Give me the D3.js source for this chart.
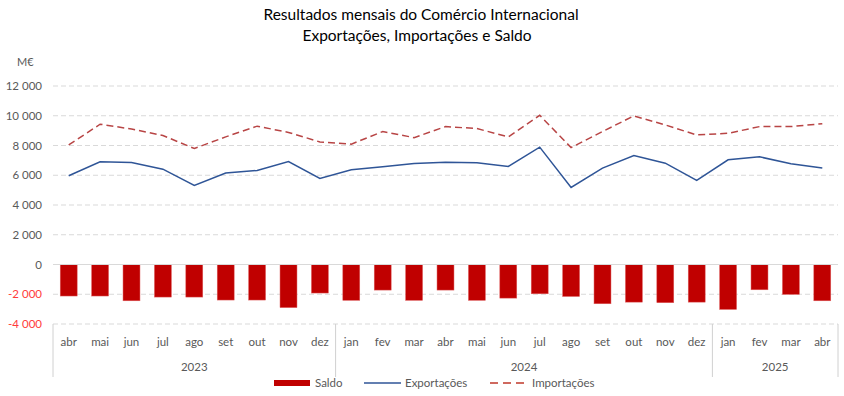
<!DOCTYPE html>
<html>
<head>
<meta charset="utf-8">
<script src="https://cdn.jsdelivr.net/npm/d3@7"></script>
<style>
  body { margin: 0; background: #fff; }
  svg { display: block; font-family: Lato, "Open Sans", sans-serif; }
</style>
</head>
<body>
<svg id="chart" width="844" height="396"></svg>
<script>

// months from abr 2023 to abr 2025
var months = ['abr','mai','jun','jul','ago','set','out','nov','dez',
              'jan','fev','mar','abr','mai','jun','jul','ago','set','out','nov','dez',
              'jan','fev','mar','abr'];
var years = [
    {label: '2023', start: 0, end: 9},
    {label: '2024', start: 9, end: 21},
    {label: '2025', start: 21, end: 25}
];
var exportacoes = [5970, 6900, 6860, 6410, 5320, 6150, 6320, 6920, 5790,
                   6370, 6570, 6790, 6880, 6840, 6590, 7890, 5180, 6480, 7330, 6810, 5650,
                   7040, 7240, 6770, 6480];
var importacoes = [8040, 9430, 9110, 8670, 7800, 8580, 9300, 8880, 8240,
                   8090, 8940, 8530, 9270, 9140, 8580, 10030, 7860, 8940, 9990, 9380, 8710,
                   8820, 9270, 9270, 9470];
var saldo = [-2120, -2120, -2440, -2190, -2190, -2390, -2390, -2900, -1920,
             -2410, -1720, -2410, -1720, -2410, -2260, -1970, -2150, -2640, -2530, -2570, -2530,
             -3020, -1700, -2010, -2440];
var yTicks = [-4000, -2000, 0, 2000, 4000, 6000, 8000, 10000, 12000];

var svg = d3.select('#chart');
var plotLeft = 53, plotRight = 838, plotTop = 86, plotBottom = 324;

var x = d3.scaleBand()
    .domain(d3.range(months.length))
    .range([plotLeft, plotRight])
    .paddingInner(0.46)
    .paddingOuter(0.23);
var xc = function(i){ return x(i) + x.bandwidth() / 2; };

var y = d3.scaleLinear()
    .domain([-4000, 12000])
    .range([plotBottom, plotTop]);

var fmt = function(v){ return d3.format(',')(v).replace(/,/g, ' ').replace('−', '-'); };

// title
svg.append('text')
    .attr('x', 421).attr('y', 20)
    .attr('text-anchor', 'middle')
    .style('font-size', '15.5px')
    .style('fill', '#000')
    .text('Resultados mensais do Comércio Internacional');
svg.append('text')
    .attr('x', 417).attr('y', 41)
    .attr('text-anchor', 'middle')
    .style('font-size', '15.5px')
    .style('fill', '#000')
    .text('Exportações, Importações e Saldo');

// unit
svg.append('text')
    .attr('x', 17).attr('y', 66)
    .style('font-size', '11px')
    .style('fill', '#595959')
    .text('M€');

// gridlines
svg.append('g')
    .selectAll('line')
    .data(yTicks.filter(function(d){ return d !== 0; }))
    .enter().append('line')
    .attr('x1', plotLeft).attr('x2', plotRight)
    .attr('y1', function(d){ return y(d); })
    .attr('y2', function(d){ return y(d); })
    .style('stroke', '#d9d9d9')
    .style('stroke-width', 1)
    .style('stroke-dasharray', '5,3');

// y labels
svg.append('g')
    .selectAll('text')
    .data(yTicks)
    .enter().append('text')
    .attr('x', 42)
    .attr('y', function(d){ return y(d) + 4; })
    .attr('text-anchor', 'end')
    .style('font-size', '11.5px')
    .style('fill', function(d){ return d < 0 ? '#ff3b3b' : '#595959'; })
    .text(fmt);

// bars
svg.append('g')
    .selectAll('rect')
    .data(saldo)
    .enter().append('rect')
    .attr('x', function(d, i){ return x(i); })
    .attr('y', y(0))
    .attr('width', x.bandwidth())
    .attr('height', function(d){ return y(d) - y(0); })
    .style('fill', '#c00000')
    .style('stroke', '#e06060')
    .style('stroke-width', 0.5);

// zero line
svg.append('line')
    .attr('x1', plotLeft).attr('x2', plotRight)
    .attr('y1', y(0)).attr('y2', y(0))
    .style('stroke', '#d9d9d9')
    .style('stroke-width', 1);

// lines
var line = function(vals){
    return d3.line()
        .x(function(d, i){ return xc(i); })
        .y(function(d){ return y(d); })(vals);
};
svg.append('path')
    .attr('d', line(exportacoes))
    .style('fill', 'none')
    .style('stroke', '#2f5597')
    .style('stroke-width', 1.5);
svg.append('path')
    .attr('d', line(importacoes))
    .style('fill', 'none')
    .style('stroke', '#b84545')
    .style('stroke-width', 1.5)
    .style('stroke-dasharray', '7,4');

// x axis: months
svg.append('g')
    .selectAll('text')
    .data(months)
    .enter().append('text')
    .attr('x', function(d, i){ return xc(i); })
    .attr('y', 346)
    .attr('text-anchor', 'middle')
    .style('font-size', '11.5px')
    .style('fill', '#595959')
    .text(function(d){ return d; });

// year separators and labels
var edge = function(i){ return plotLeft + i * (plotRight - plotLeft) / months.length; };
var seps = [0, 9, 21, 25];
svg.append('g')
    .selectAll('line')
    .data(seps)
    .enter().append('line')
    .attr('x1', function(d){ return edge(d); })
    .attr('x2', function(d){ return edge(d); })
    .attr('y1', plotBottom)
    .attr('y2', 377)
    .style('stroke', '#d0d0d0')
    .style('stroke-width', 1);

svg.append('g')
    .selectAll('text')
    .data(years)
    .enter().append('text')
    .attr('x', function(d){ return (edge(d.start) + edge(d.end)) / 2; })
    .attr('y', 371)
    .attr('text-anchor', 'middle')
    .style('font-size', '11.5px')
    .style('fill', '#595959')
    .text(function(d){ return d.label; });

// legend
var lg = svg.append('g').attr('transform', 'translate(0,383)');
lg.append('rect')
    .attr('x', 274).attr('y', -3)
    .attr('width', 36).attr('height', 6)
    .style('fill', '#c00000');
lg.append('text')
    .attr('x', 315).attr('y', 4)
    .style('font-size', '11.5px').style('fill', '#595959')
    .text('Saldo');
lg.append('line')
    .attr('x1', 364).attr('x2', 401)
    .style('stroke', '#2f5597').style('stroke-width', 1.5);
lg.append('text')
    .attr('x', 405).attr('y', 4)
    .style('font-size', '11.5px').style('fill', '#595959')
    .text('Exportações');
lg.append('line')
    .attr('x1', 490).attr('x2', 527)
    .style('stroke', '#c0392b').style('stroke-width', 1.5)
    .style('stroke-dasharray', '8,5');
lg.append('text')
    .attr('x', 532).attr('y', 4)
    .style('font-size', '11.5px').style('fill', '#595959')
    .text('Importações');

</script>
</body>
</html>
